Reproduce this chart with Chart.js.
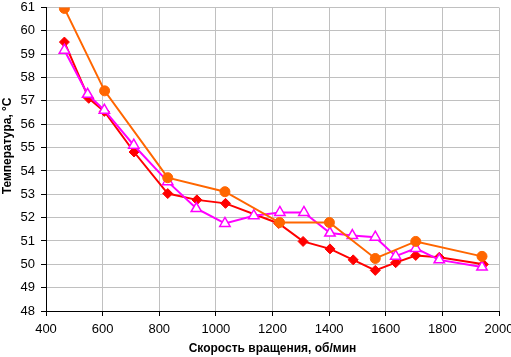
<!DOCTYPE html>
<html>
<head>
<meta charset="utf-8">
<script src="https://cdn.jsdelivr.net/npm/chart.js@4/dist/chart.umd.min.js"></script>
<style>
html,body{margin:0;padding:0;background:#fff;}
#wrap{width:511px;height:357px;position:relative;}
</style>
</head>
<body>
<div id="wrap"><canvas id="c" width="511" height="357"></canvas></div>
<script>
// Data
const orangeX = [465, 607, 830, 1032, 1225, 1401, 1563, 1706, 1940];
const orangeY = [60.96, 57.43, 53.71, 53.11, 51.79, 51.79, 50.25, 50.98, 50.34];

const magentaX = [465, 547, 606, 710, 830, 931, 1032, 1134, 1226, 1311, 1403, 1482, 1563, 1635, 1706, 1789, 1940];
const magentaY = [59.17, 57.28, 56.6, 55.1, 53.54, 52.39, 51.75, 52.08, 52.22, 52.22, 51.34, 51.23, 51.16, 50.35, 50.68, 50.19, 49.88];

const redX = [465, 551, 606, 711, 830, 933, 1034, 1222, 1308, 1403, 1485, 1563, 1635, 1706, 1789, 1945];
const redY = [59.52, 57.11, 56.55, 54.81, 53.03, 52.76, 52.61, 51.75, 50.98, 50.66, 50.19, 49.74, 50.07, 50.38, 50.3, 50.0];

const xTitle = 'Скорость вращения, об/мин';
const yTitle = 'Температура, °C';
const xMin = 400, xMax = 2000, xStep = 200;
const yMin = 48, yMax = 61, yStep = 1;

const pts = (xs, ys) => xs.map((x, i) => ({x: x, y: ys[i]}));

Chart.defaults.font.family = '"Liberation Sans", Arial, sans-serif';
Chart.defaults.color = '#000';

new Chart(document.getElementById('c'), {
  type: 'scatter',
  data: {
    datasets: [
      {
        data: pts(orangeX, orangeY),
        showLine: true,
        borderColor: '#FF6600',
        backgroundColor: '#FF6600',
        borderWidth: 2,
        pointStyle: 'circle',
        pointRadius: 5,
        pointBorderWidth: 1,
        pointBorderColor: '#FF6600'
      },
      {
        data: pts(magentaX, magentaY),
        showLine: true,
        borderColor: '#FF00FF',
        backgroundColor: '#FFFFFF',
        borderWidth: 2,
        pointStyle: 'triangle',
        pointRadius: 6,
        pointBorderWidth: 1.5,
        pointBorderColor: '#FF00FF'
      },
      {
        data: pts(redX, redY),
        showLine: true,
        borderColor: '#FF0000',
        backgroundColor: '#FF0000',
        borderWidth: 2,
        pointStyle: 'rectRot',
        pointRadius: 5,
        pointBorderWidth: 1,
        pointBorderColor: '#FF0000'
      }
    ]
  },
  options: {
    responsive: false,
    animation: false,
    layout: {padding: {top: 5, right: 12, left: 0, bottom: 0}},
    plugins: {legend: {display: false}, tooltip: {enabled: false}},
    elements: {line: {tension: 0}},
    scales: {
      x: {
        type: 'linear',
        min: xMin, max: xMax,
        afterFit: s => { s.height = 46; s.paddingLeft = 0; s.paddingRight = 0; },
        ticks: {stepSize: xStep, padding: 6, font: {size: 13}, color: '#000', maxRotation: 0,
                callback: v => String(v)},
        grid: {color: '#C0C0C0', lineWidth: 1, tickLength: 5, tickColor: '#000', drawTicks: true},
        border: {color: '#000', width: 1},
        title: {display: true, text: xTitle, font: {size: 12, weight: 'bold'}, color: '#000', padding: {top: 0, bottom: 1}}
      },
      y: {
        type: 'linear',
        min: yMin, max: yMax,
        afterFit: s => { s.width = 46; s.paddingTop = 0; s.paddingBottom = 0; },
        ticks: {stepSize: yStep, padding: 6, font: {size: 13}, color: '#000',
                callback: v => String(v)},
        grid: {color: '#C0C0C0', lineWidth: 1, tickLength: 5, tickColor: '#000'},
        border: {color: '#000', width: 1},
        title: {display: true, text: '        ' + yTitle, font: {size: 12, weight: 'bold'}, color: '#000', padding: {top: 0, bottom: 0}}
      }
    }
  }
});
</script>
</body>
</html>
